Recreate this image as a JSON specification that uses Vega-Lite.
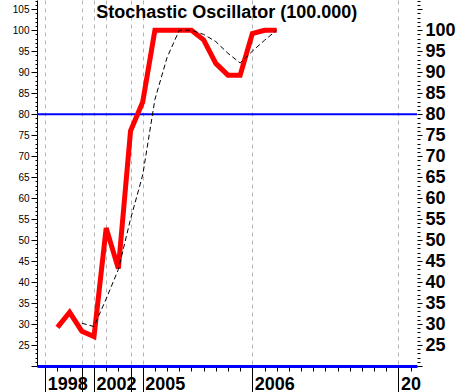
{
  "$schema": "https://vega.github.io/schema/vega-lite/v6.json",
  "autosize": {"type": "none"},
  "padding": {"left": 37, "top": 0, "right": 39, "bottom": 26},
  "width": 380,
  "height": 366,
  "background": "white",
  "config": {"view": {"stroke": null}, "axis": {"tickColor": "black", "domainColor": "black", "labelColor": "black", "tickWidth": 1}},
  "datasets": {
    "k": [
      {"i": 1, "v": 29.2}, {"i": 2, "v": 32.8}, {"i": 3, "v": 28.3}, {"i": 4, "v": 27.0},
      {"i": 5, "v": 52.9}, {"i": 6, "v": 43.2}, {"i": 7, "v": 76.0}, {"i": 8, "v": 82.9},
      {"i": 9, "v": 100}, {"i": 10, "v": 100}, {"i": 11, "v": 100}, {"i": 12, "v": 100},
      {"i": 13, "v": 97.7}, {"i": 14, "v": 92.1}, {"i": 15, "v": 89.3}, {"i": 16, "v": 89.3},
      {"i": 17, "v": 99.2}, {"i": 18, "v": 100}, {"i": 19, "v": 100}
    ],
    "d": [
      {"i": 3, "v": 30.2}, {"i": 4, "v": 29.4}, {"i": 5, "v": 36.0}, {"i": 6, "v": 43.0},
      {"i": 7, "v": 55.0}, {"i": 8, "v": 65.5}, {"i": 9, "v": 83.5}, {"i": 10, "v": 93.5},
      {"i": 11, "v": 100}, {"i": 12, "v": 100}, {"i": 13, "v": 99.0}, {"i": 14, "v": 97.3},
      {"i": 15, "v": 94.5}, {"i": 16, "v": 92.2}, {"i": 17, "v": 95.0}, {"i": 18, "v": 97.6},
      {"i": 19, "v": 100}
    ],
    "t": [{"label": "Stochastic Oscillator (100.000)", "level": 80, "tx": 14.9, "ty": 102.8}]
  },
  "resolve": {"scale": {"y": "independent"}, "axis": {"y": "independent"}},
  "layer": [
    {
      "data": {"name": "t"},
      "mark": {"type": "rule", "color": "#0000ff", "strokeWidth": 2},
      "encoding": {
        "y": {"field": "level", "type": "quantitative", "scale": {"domain": [20, 107.2], "nice": false, "zero": false}, "axis": null}
      }
    },
    {
      "data": {"name": "k"},
      "mark": {"type": "line", "color": "#ff0000", "strokeWidth": 5},
      "encoding": {
        "x": {
          "field": "i", "type": "quantitative",
          "scale": {"domain": [-0.68, 30.52], "nice": false, "zero": false},
          "axis": {
            "title": null, "tickCount": 200,
            "values": [0,1,2,3,4,5,6,7,8,9,10,11,12,13,14,15,16,17,18,19,20,21,22,23,24,25,26,27,28,29,30],
            "labelExpr": "datum.value == 0 ? '1998' : datum.value == 4 ? '2002' : datum.value == 8 ? '2005' : datum.value == 17 ? '2006' : datum.value == 29 ? '20' : ''",
            "labelAlign": "left", "labelBaseline": "top", "labelOffset": 2, "labelPadding": -17,
            "labelFont": "Liberation Sans", "labelFontSize": 18, "labelFontWeight": "bold",
            "labelOverlap": false, "labelFlush": false, "labelBound": false,
            "tickSize": {"condition": {"test": "indexof([0,3,4,7,8,17,29], datum.value) >= 0", "value": 26}, "value": 5},
            "grid": true, "gridColor": "#b4b4b4", "gridDash": [4, 4],
            "gridOpacity": {"condition": {"test": "indexof([0,3,4,5,7,8,17,29], datum.value) >= 0", "value": 1}, "value": 0},
            "domainColor": "#0000ff", "domainWidth": 3
          }
        },
        "y": {
          "field": "v", "type": "quantitative",
          "scale": {"domain": [20, 107.2], "nice": false, "zero": false},
          "axis": {
            "orient": "left", "title": null, "grid": false, "tickCount": 200, "format": "d",
            "values": [20,21,22,23,24,25,26,27,28,29,30,31,32,33,34,35,36,37,38,39,40,41,42,43,44,45,46,47,48,49,50,51,52,53,54,55,56,57,58,59,60,61,62,63,64,65,66,67,68,69,70,71,72,73,74,75,76,77,78,79,80,81,82,83,84,85,86,87,88,89,90,91,92,93,94,95,96,97,98,99,100,101,102,103,104,105,106,107],
            "labelExpr": "datum.value % 5 == 0 && datum.value >= 25 ? datum.label : ''",
            "labelFont": "Liberation Sans", "labelFontSize": 10, "labelPadding": 2,
            "labelOverlap": false, "labelFlush": false, "labelBound": false,
            "tickSize": {"condition": {"test": "datum.value % 5 == 0", "value": 6}, "value": 2}
          }
        }
      }
    },
    {
      "data": {"name": "d"},
      "mark": {"type": "line", "color": "black", "strokeWidth": 1, "strokeDash": [5, 3]},
      "encoding": {
        "x": {"field": "i", "type": "quantitative", "scale": {"domain": [-0.68, 30.52], "nice": false, "zero": false}},
        "y": {
          "field": "v", "type": "quantitative",
          "scale": {"domain": [20, 107.2], "nice": false, "zero": false},
          "axis": {
            "orient": "right", "title": null, "grid": false, "domain": false, "tickCount": 200, "format": "d",
            "values": [20,21,22,23,24,25,26,27,28,29,30,31,32,33,34,35,36,37,38,39,40,41,42,43,44,45,46,47,48,49,50,51,52,53,54,55,56,57,58,59,60,61,62,63,64,65,66,67,68,69,70,71,72,73,74,75,76,77,78,79,80,81,82,83,84,85,86,87,88,89,90,91,92,93,94,95,96,97,98,99,100,101,102,103,104,105,106,107],
            "labelExpr": "datum.value % 5 == 0 && datum.value >= 25 && datum.value <= 100 ? datum.label : ''",
            "labelFont": "Liberation Sans", "labelFontSize": 18, "labelFontWeight": "bold", "labelPadding": 3,
            "labelOverlap": false, "labelFlush": false, "labelBound": false,
            "tickSize": {"condition": {"test": "datum.value % 5 == 0", "value": 5}, "value": 3}
          }
        }
      }
    },
    {
      "data": {"name": "t"},
      "mark": {"type": "text", "font": "Liberation Sans", "fontSize": 18, "fontWeight": "bold", "baseline": "alphabetic", "align": "center", "color": "black"},
      "encoding": {
        "x": {"field": "tx", "type": "quantitative", "scale": {"domain": [-0.68, 30.52], "nice": false, "zero": false}},
        "y": {"field": "ty", "type": "quantitative", "scale": {"domain": [20, 107.2], "nice": false, "zero": false}, "axis": null},
        "text": {"field": "label"}
      }
    }
  ]
}
